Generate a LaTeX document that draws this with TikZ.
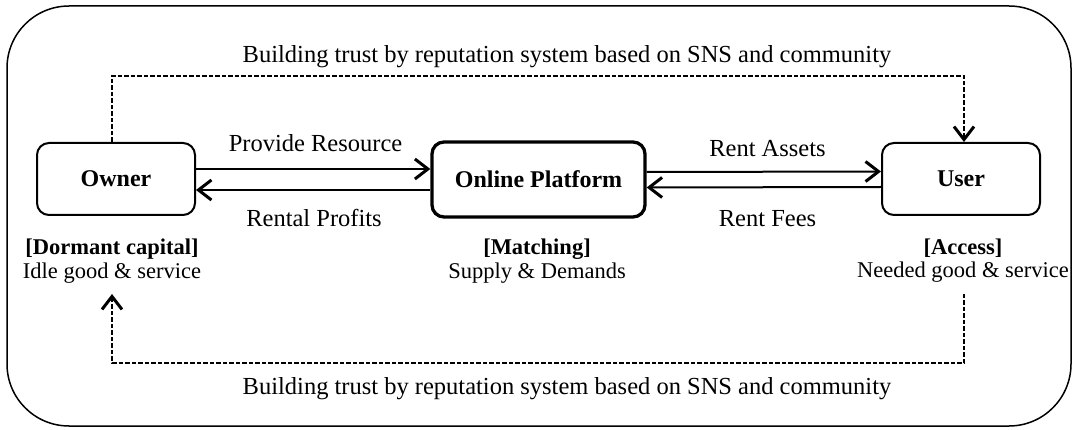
\documentclass[tikz,border=0pt]{standalone}
\usepackage{fontspec}
\setmainfont{Liberation Serif}
\usetikzlibrary{arrows.meta}
\begin{document}
\begin{tikzpicture}[x=1pt,y=-1pt,
  every node/.style={font=\fontsize{24}{28}\selectfont, inner sep=0pt},
  agent/.style={draw, line width=2pt, rounded corners=12pt, minimum width=158pt, minimum height=72pt},
  hub/.style={draw, line width=3.3pt, rounded corners=12pt, minimum width=213pt, minimum height=75pt},
  lbl/.style={anchor=base, font=\fontsize{24.5}{28}\selectfont},
  sub/.style={anchor=base, font=\fontsize{22.5}{26}\selectfont},
  barb/.tip={Straight Barb[length=13pt,width=20pt,line width=3pt]},
  flow/.style={line width=2pt, -barb},
  trust/.style={line width=1.4pt, dash pattern=on 4.5pt off 2pt, -barb}]
\useasboundingbox (0,0) rectangle (1077,430);
% outer frame
\draw[line width=1.5pt, rounded corners=62pt] (7,6) rectangle (1071,426);
% boxes
\node[agent] (owner) at (116,179) {\textbf{Owner}};
\node[hub] (platform) at (538.5,179.5) {\textbf{Online Platform}};
\node[agent] (user) at (961,179) {\textbf{User}};
% flows
\draw[flow] ([yshift=10pt]owner.east) -- ([yshift=10.5pt]platform.west);
\draw[flow] ([yshift=-10.5pt]platform.west) -- ([yshift=-11pt]owner.east);
\draw[flow] ([yshift=7.5pt]platform.east) -- ([yshift=7.5pt]user.west);
\draw[flow] ([yshift=-8pt]user.west) -- ([yshift=-8pt]platform.east);
% flow labels
\node[lbl] (provide) at (315.5,152) {Provide Resource};
\node[lbl] (profits) at (314,227) {Rental Profits};
\node[lbl] (assets) at (767.5,157) {Rent Assets};
\node[lbl] (fees) at (767.5,227) {Rent Fees};
% sub labels
\node[sub] (dormant) at (112,255) {\textbf{[Dormant capital]}};
\node[sub] (idle) at (112,279) {Idle good \& service};
\node[sub] (matching) at (537,255) {\textbf{[Matching]}};
\node[sub] (supply) at (537,279) {Supply \& Demands};
\node[sub] (access) at (963,255) {\textbf{[Access]}};
\node[sub] (needed) at (963,278) {Needed good \& service};
% trust loops
\node[lbl] (toptrust) at (567,63) {Building trust by reputation system based on SNS and community};
\node[lbl] (bottrust) at (567,395) {Building trust by reputation system based on SNS and community};
\coordinate (t1) at (112,76);
\coordinate (t2) at (964,76);
\draw[trust] (owner.north -| t1) -- (t1) -- (t2) -- (user.north -| t2);
\coordinate (b0) at (964,294);
\coordinate (b1) at (964,363);
\coordinate (b2) at (112,363);
\coordinate (b3) at (112,294);
\draw[trust] (b0) -- (b1) -- (b2) -- (b3);
\end{tikzpicture}
\end{document}
